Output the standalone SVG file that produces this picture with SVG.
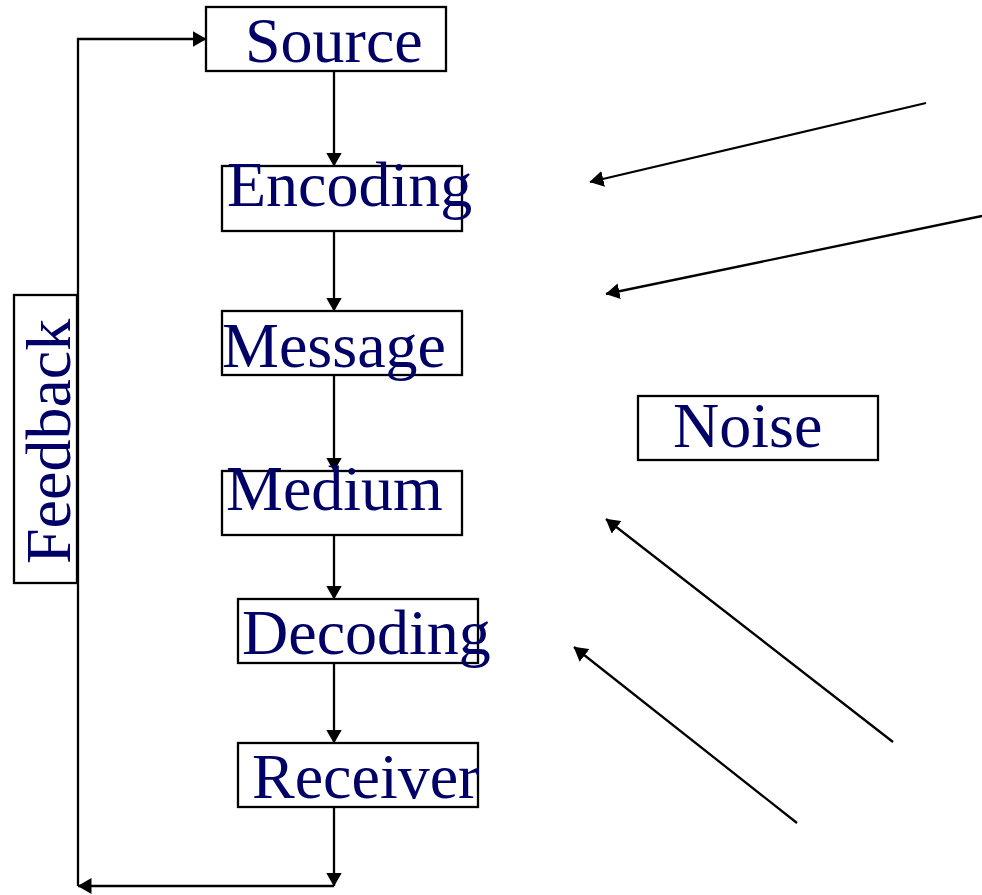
<svg xmlns="http://www.w3.org/2000/svg" width="982" height="895" viewBox="0 0 982 895">
  <style>
    .box { fill: #ffffff; stroke: #000000; stroke-width: 2.3; }
    .lbl { font-family: "Liberation Serif", "Times New Roman", serif; font-size: 64px; fill: #000066; }
    .arr { fill: none; stroke: #000000; stroke-width: 2.3; marker-end: url(#ah); }
  </style>
  <defs>
    <marker id="ah" viewBox="0 0 14 16" refX="13.5" refY="8" markerWidth="14" markerHeight="16" markerUnits="userSpaceOnUse" orient="auto">
      <path d="M0,0 L14,8 L0,16 z" fill="#000000"/>
    </marker>
  </defs>

  <g id="connectors">
    <line class="arr" x1="334" y1="71" x2="334" y2="166"/>
    <line class="arr" x1="334" y1="231" x2="334" y2="311"/>
    <line class="arr" x1="334" y1="375" x2="334" y2="471"/>
    <line class="arr" x1="334" y1="535" x2="334" y2="599"/>
    <line class="arr" x1="334" y1="663" x2="334" y2="743"/>
    <line class="arr" x1="334" y1="807" x2="334" y2="886"/>
    <line class="arr" x1="334" y1="886" x2="78" y2="886"/>
    <polyline class="arr" points="78,886 78,39 206,39"/>
    <line class="arr" x1="926" y1="103" x2="590" y2="182"/>
    <line class="arr" x1="982" y1="216" x2="606" y2="294"/>
    <line class="arr" x1="893" y1="742" x2="606" y2="519"/>
    <line class="arr" x1="797" y1="823" x2="574" y2="647"/>
  </g>

  <g id="source">
    <rect class="box" x="206" y="7" width="240" height="64"/>
    <text class="lbl" x="245" y="62">Source</text>
  </g>
  <g id="encoding">
    <rect class="box" x="222" y="166" width="240" height="65"/>
    <text class="lbl" x="227" y="206">Encoding</text>
  </g>
  <g id="message">
    <rect class="box" x="222" y="311" width="240" height="64"/>
    <text class="lbl" x="222" y="367">Message</text>
  </g>
  <g id="medium">
    <rect class="box" x="222" y="471" width="240" height="64"/>
    <text class="lbl" x="226" y="510">Medium</text>
  </g>
  <g id="decoding">
    <rect class="box" x="238" y="599" width="240" height="64"/>
    <text class="lbl" x="242" y="654">Decoding</text>
  </g>
  <g id="receiver">
    <rect class="box" x="238" y="743" width="240" height="64"/>
    <text class="lbl" x="252" y="798">Receiver</text>
  </g>
  <g id="noise">
    <rect class="box" x="638" y="396" width="240" height="64"/>
    <text class="lbl" x="673" y="447">Noise</text>
  </g>
  <g id="feedback">
    <rect class="box" x="14" y="295" width="63" height="288"/>
    <text class="lbl" transform="translate(70,564) rotate(-90)">Feedback</text>
  </g>
</svg>
